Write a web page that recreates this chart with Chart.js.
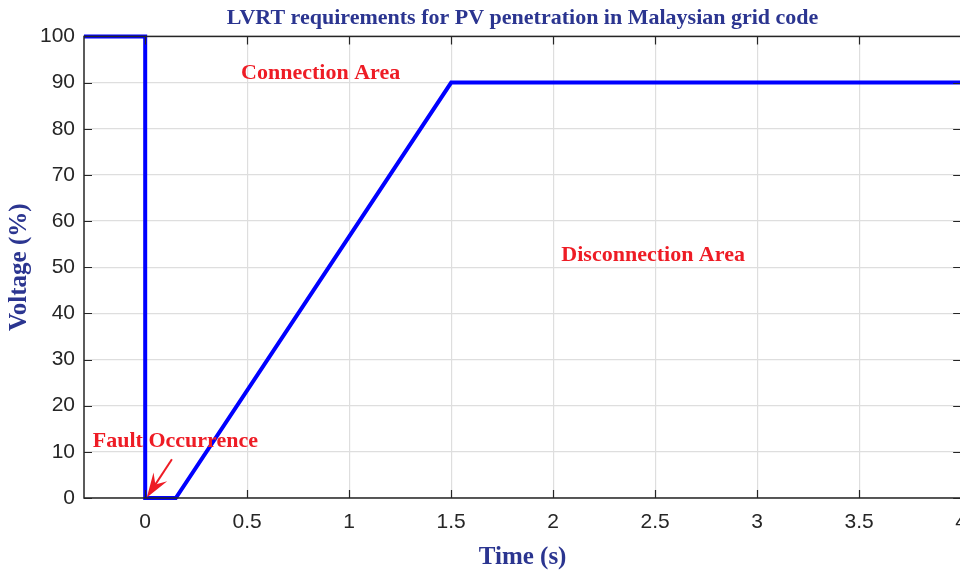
<!DOCTYPE html>
<html>
<head>
<meta charset="utf-8">
<script src="https://cdn.jsdelivr.net/npm/chart.js@4.4.1/dist/chart.umd.min.js"></script>
<style>
  html, body { margin: 0; padding: 0; background: #fff; overflow: hidden; }
  #wrap { width: 979px; height: 570px; }
</style>
</head>
<body>
<div id="wrap"><canvas id="chart"></canvas></div>
<script>
// LVRT curve (time in s, voltage in %)
const timeValues = [-0.3, 0, 0, 0.15, 1.5, 4];
const voltageValues = [100, 100, 0, 0, 90, 90];

const xTicks = [0, 0.5, 1, 1.5, 2, 2.5, 3, 3.5, 4];
const yTicks = [0, 10, 20, 30, 40, 50, 60, 70, 80, 90, 100];

const labelTexts = ['Connection Area', 'Disconnection Area', 'Fault Occurrence'];
const labelX = [0.86, 2.49, 0.148];
const labelY = [92, 52.5, 12.2];

// arrow for fault occurrence
const arrowFrom = { x: 0.131, y: 8.4 };
const arrowTo = { x: 0.008, y: 0.1 };

const axisColor = '#262626';
const titleBlue = '#2b3590';
const red = '#ee1c25';
const serif = '"Liberation Serif", "Times New Roman", serif';

// borde y marcas internas estilo matlab
const boxPlugin = {
    id: 'box',
    afterDatasetsDraw(chart) {
        const ctx = chart.ctx;
        const a = chart.chartArea;
        const xs = chart.scales.x, ys = chart.scales.y;
        ctx.save();
        ctx.strokeStyle = axisColor;
        ctx.lineWidth = 1.5;
        ctx.strokeRect(a.left, a.top, a.right - a.left, a.bottom - a.top);
        ctx.lineWidth = 1.2;
        ctx.beginPath();
        xTicks.forEach(v => {
            const px = Math.round(xs.getPixelForValue(v)) + 0.5;
            ctx.moveTo(px, a.bottom); ctx.lineTo(px, a.bottom - 8);
            ctx.moveTo(px, a.top); ctx.lineTo(px, a.top + 8);
        });
        yTicks.forEach(v => {
            const py = Math.round(ys.getPixelForValue(v)) + 0.5;
            ctx.moveTo(a.left, py); ctx.lineTo(a.left + 8, py);
            ctx.moveTo(a.right, py); ctx.lineTo(a.right - 8, py);
        });
        ctx.stroke();
        ctx.restore();
    }
};

const notesPlugin = {
    id: 'notes',
    afterDraw(chart) {
        const ctx = chart.ctx;
        const xs = chart.scales.x, ys = chart.scales.y;
        ctx.save();
        ctx.fillStyle = red;
        ctx.font = 'bold 22px ' + serif;
        ctx.textAlign = 'center';
        ctx.textBaseline = 'middle';
        labelTexts.forEach((t, i) => {
            ctx.fillText(t, xs.getPixelForValue(labelX[i]), ys.getPixelForValue(labelY[i]));
        });
        // flecha
        const x1 = xs.getPixelForValue(arrowFrom.x), y1 = ys.getPixelForValue(arrowFrom.y);
        const x2 = xs.getPixelForValue(arrowTo.x), y2 = ys.getPixelForValue(arrowTo.y);
        const ang = Math.atan2(y2 - y1, x2 - x1);
        const len = 26, spread = 0.32;
        ctx.strokeStyle = red;
        ctx.lineWidth = 2;
        ctx.beginPath();
        ctx.moveTo(x1, y1);
        ctx.lineTo(x2 - len * 0.5 * Math.cos(ang), y2 - len * 0.5 * Math.sin(ang));
        ctx.stroke();
        ctx.beginPath();
        ctx.moveTo(x2, y2);
        ctx.lineTo(x2 - len * Math.cos(ang - spread), y2 - len * Math.sin(ang - spread));
        ctx.lineTo(x2 - len * 0.6 * Math.cos(ang), y2 - len * 0.6 * Math.sin(ang));
        ctx.lineTo(x2 - len * Math.cos(ang + spread), y2 - len * Math.sin(ang + spread));
        ctx.closePath();
        ctx.fillStyle = red;
        ctx.fill();
        ctx.restore();
    }
};

const points = timeValues.map((t, i) => ({ x: t, y: voltageValues[i] }));

new Chart(document.getElementById('chart'), {
    type: 'scatter',
    data: {
        datasets: [{
            data: points,
            showLine: true,
            borderColor: '#0000ff',
            backgroundColor: '#0000ff',
            borderWidth: 4,
            pointRadius: 0,
            tension: 0,
            clip: false
        }]
    },
    options: {
        responsive: true,
        maintainAspectRatio: false,
        animation: false,
        layout: { padding: 0 },
        plugins: {
            legend: { display: false },
            tooltip: { enabled: false },
            title: {
                display: true,
                fullSize: false,
                text: 'LVRT requirements for PV penetration in Malaysian grid code',
                color: titleBlue,
                font: { family: serif, size: 22, weight: 'bold' },
                padding: { top: 5, bottom: 5 }
            }
        },
        scales: {
            x: {
                type: 'linear',
                min: -0.3,
                max: 4,
                afterFit(scale) { scale.height = 72; },
                grid: { color: '#dedede', lineWidth: 1.2, drawTicks: false },
                border: { display: false },
                ticks: {
                    stepSize: 0.5,
                    includeBounds: false,
                    color: axisColor,
                    padding: 12,
                    maxRotation: 0,
                    callback: v => String(v),
                    font: { family: '"Liberation Sans", Arial, sans-serif', size: 21 }
                },
                title: {
                    display: true,
                    text: 'Time (s)',
                    color: titleBlue,
                    font: { family: serif, size: 25, weight: 'bold' },
                    padding: { top: 0, bottom: -3 }
                }
            },
            y: {
                min: 0,
                max: 100,
                afterFit(scale) { scale.width = 84; },
                grid: { color: '#dedede', lineWidth: 1.2, drawTicks: false },
                border: { display: false },
                ticks: {
                    stepSize: 10,
                    color: axisColor,
                    padding: 9,
                    font: { family: '"Liberation Sans", Arial, sans-serif', size: 21 }
                },
                title: {
                    display: true,
                    text: 'Voltage (%)',
                    color: titleBlue,
                    font: { family: serif, size: 25, weight: 'bold' },
                    padding: { top: 5, bottom: 0 }
                }
            }
        }
    },
    plugins: [boxPlugin, notesPlugin]
});
</script>
</body>
</html>
